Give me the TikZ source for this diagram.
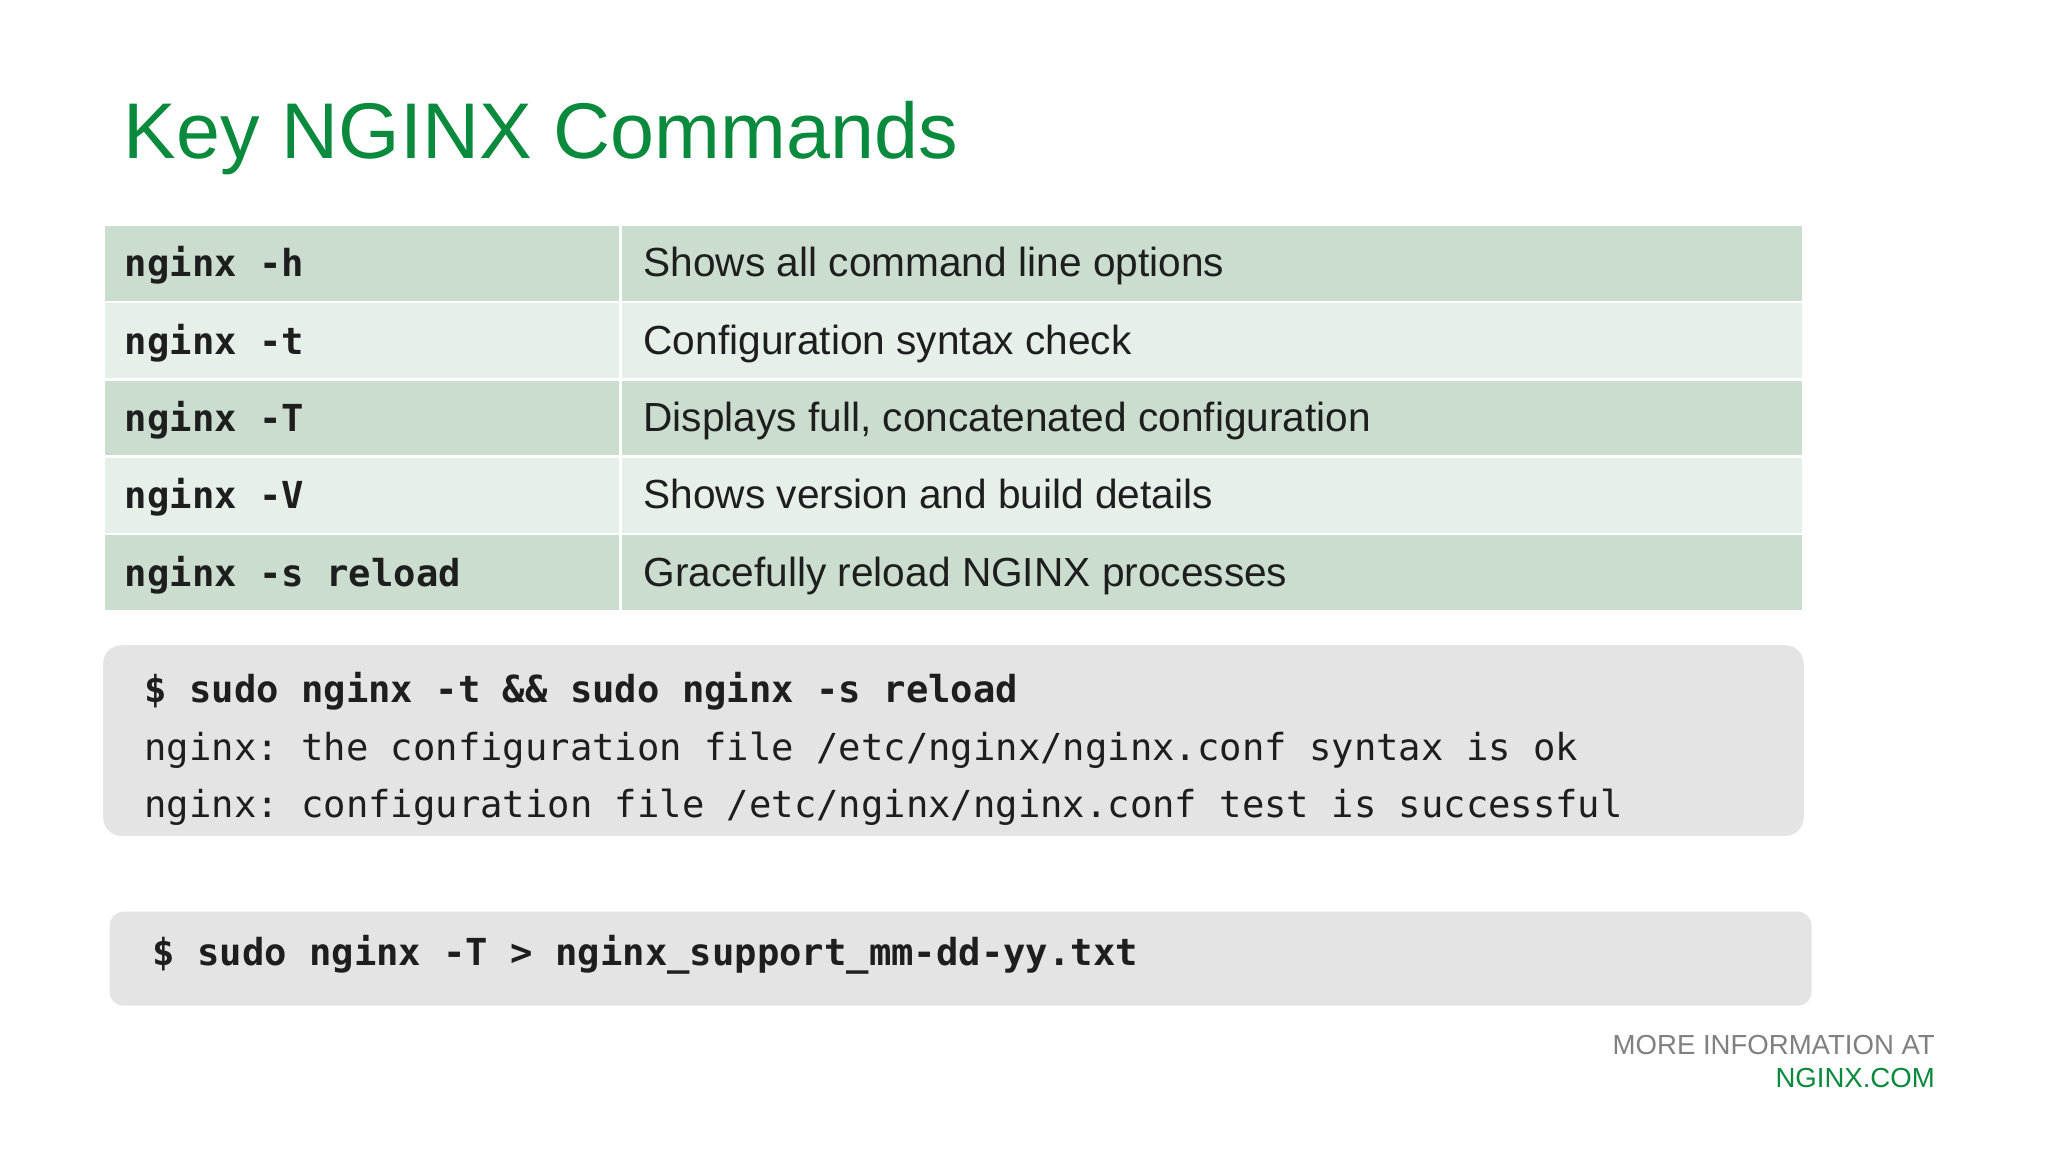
\documentclass[tikz,border=0pt]{standalone}
\usepackage{fontspec}
\setmainfont{Liberation Sans}
\setmonofont{DejaVu Sans Mono}
\definecolor{ngreen}{HTML}{0A8A3C}
\definecolor{rowA}{HTML}{CBDDCF}
\definecolor{rowB}{HTML}{E6EFE8}
\definecolor{boxg}{HTML}{E4E4E4}
\definecolor{txt}{HTML}{1E1E1E}
\begin{document}
\begin{tikzpicture}[x=0.01cm,y=-0.01cm,
  cmd/.style={anchor=base west,inner sep=0pt,font=\fontsize{8.1}{10}\selectfont\ttfamily\bfseries,text=txt},
  desc/.style={anchor=base west,inner sep=0pt,font=\fontsize{8.85}{10}\selectfont,text=txt},
  code/.style={anchor=base west,inner sep=0pt,font=\fontsize{8.1}{10}\selectfont\ttfamily,text=txt},
  cell/.style={draw=white,line width=0.6pt}]
\useasboundingbox[fill=white] (0,0) rectangle (1568,882);
\node[anchor=base west,inner sep=0pt,font=\fontsize{17.2}{20}\selectfont,text=ngreen] (title) at (94,121) {Key NGINX Commands};
\foreach \i/\c/\d [count=\k from 0] in {h/nginx -h/Shows all command line options,t/nginx -t/Configuration syntax check,T/nginx -T/{Displays full, concatenated configuration},V/nginx -V/Shows version and build details,s/nginx -s reload/Gracefully reload NGINX processes}{
  \pgfmathsetmacro{\ya}{172+59.2*\k}
  \pgfmathsetmacro{\yb}{172+59.2*(\k+1)}
  \pgfmathsetmacro{\yt}{172+59.2*\k+40}
  \ifodd\k \def\rc{rowB}\else\def\rc{rowA}\fi
  \path[cell,fill=\rc] (79,\ya) rectangle (475,\yb);
  \path[cell,fill=\rc] (475,\ya) rectangle (1381,\yb);
  \node[cmd] (c\i) at (95,\yt) {\c};
  \node[desc] (d\i) at (492,\yt) {\d};
}
\fill[boxg,rounded corners=4pt] (79,494) rectangle (1381,640);
\node[code,font=\fontsize{8.1}{10}\selectfont\ttfamily\bfseries] (l1) at (110,538) {\$ sudo nginx -t \&\& sudo nginx -s reload};
\node[code] (l2) at (110,582) {nginx: the configuration file /etc/nginx/nginx.conf syntax is ok};
\node[code] (l3) at (110,626) {nginx: configuration file /etc/nginx/nginx.conf test is successful};
\fill[boxg,rounded corners=3pt] (84,698) rectangle (1387,770);
\node[code,font=\fontsize{8.1}{10}\selectfont\ttfamily\bfseries] (l4) at (116,739) {\$ sudo nginx -T > nginx\_support\_mm-dd-yy.txt};
\node[anchor=base east,inner sep=0pt,font=\fontsize{6}{7}\selectfont,text=gray] (f1) at (1482,807) {MORE INFORMATION AT};
\node[anchor=base east,inner sep=0pt,font=\fontsize{6}{7}\selectfont,text=ngreen] (f2) at (1482,833) {NGINX.COM};
\end{tikzpicture}
\end{document}
